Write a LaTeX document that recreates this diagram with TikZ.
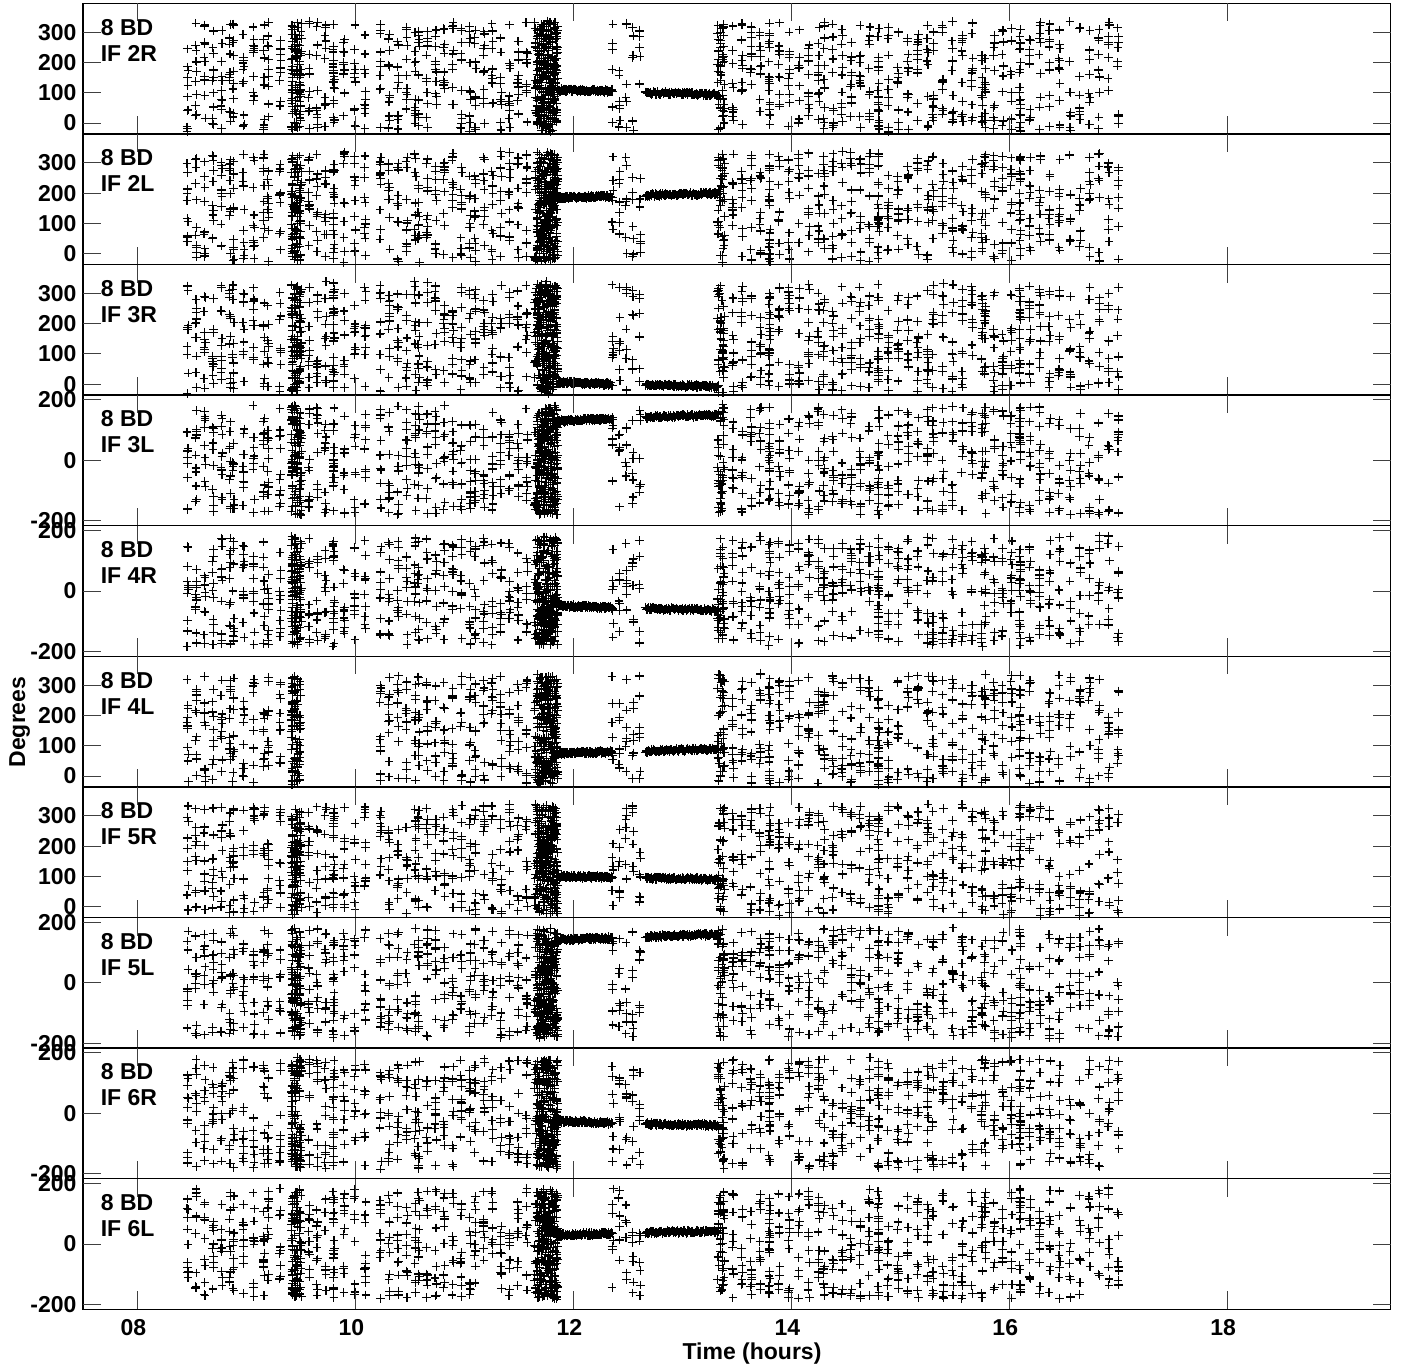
\documentclass[tikz,border=0pt]{standalone}
\usepackage{fontspec}
\setmainfont{Liberation Sans}
\usetikzlibrary{calc}

\tikzset{
    mk/.style={only marks, mark=+, mark size=4.3pt, line width=1.15pt},
    frame/.style={line width=1.3pt},
    tick/.style={line width=1pt, black!75},
    lbl/.style={font=\bfseries\fontsize{23}{23}\selectfont, inner sep=0pt},
}

% one scan: start, end (hours), tracks, step, offset
\newcommand\scanblk[5]{%
  \pgfmathtruncatemacro\ns{max(2,(#2-#1)/#4+1)}%
  \foreach \j in {1,...,#3}{%
    \pgfmathsetmacro\pz{360*rnd}%
    \pgfmathsetmacro\rt{(200*rnd-100)/#4}%
    \draw[mk] plot[domain=#1:#2, samples=\ns]
      ({\x+0.006*rand}, {mod(\pz+\rt*(\x-#1)+7200,360)-180+#5+6*rand});
  }}
% calibrator bar: start, end, phase at start, phase at end
\newcommand\phbar[4]{%
  \draw[mk] plot[domain=#1:#2, samples=90]
    (\x, {#3+(#4-#3)*(\x-#1)/(#2-#1)+5*rand});}

\begin{document}
\begin{tikzpicture}[x=1pt, y=-1pt]
\useasboundingbox (0,0) rectangle (1401,1368);

\foreach \k/\lab/\typ/\pa/\pb/\pc/\pd/\sa/\sb in {
    0/2R/0/110/105/100/95/0/0,     1/2L/0/185/190/193/200/0/0,
    2/3R/0/5/0/-2/-8/0/0,          3/3L/1/130/138/143/150/0/0,
    4/4R/1/-48/-55/-58/-63/0/0,    5/4L/0/75/80/83/90/9.5/10.1,
    6/5R/0/100/97/94/90/0/0,       7/5L/1/142/148/153/160/0/0,
    8/6R/1/-25/-32/-35/-40/0/0,    9/6L/1/30/35/38/42/0/0}{
  \pgfmathsetmacro\ptop{3.3+130.6*\k}
  \pgfmathsetmacro\pmid{\ptop+65.3}
  \pgfmathsetmacro\pcen{\typ==0 ? 180 : 0}
  \pgfmathsetmacro\poff{\typ==0 ? -25 : 0}
  \pgfmathtruncatemacro\sd{\k*37+5}
  \pgfmathsetseed{\sd}
  \begin{scope}[shift={(83-7.5*108.97,\pmid)}, x=108.97pt, y=0.3023pt]
    % data
    \foreach \ta/\tb/\nk/\st in {
        8.46/8.85/11/0.075, 8.88/9.16/11/0.075, 9.2/9.42/11/0.075,
        9.42/9.49/22/0.02, 9.5/9.8/11/0.075, 9.8/10.09/11/0.075,
        10.23/10.55/11/0.075, 10.58/11.05/11/0.075, 11.1/11.65/11/0.075,
        11.67/11.85/28/0.02, 12.36/12.61/7/0.06, 13.33/13.37/12/0.015,
        13.38/13.8/11/0.075, 13.8/14.25/11/0.075, 14.3/14.8/11/0.075,
        14.8/15.25/11/0.075, 15.3/15.75/11/0.075, 15.78/16.1/11/0.075,
        16.1/16.46/11/0.075, 16.56/17.0/9/0.075}{
      \pgfmathtruncatemacro\skp{(\ta>=\sa)&&(\tb<=\sb) ? 1 : 0}
      \ifnum\skp=0 \scanblk{\ta}{\tb}{\nk}{\st}{\poff}\fi
    }
    \pgfmathsetmacro\ua{\pa-\pcen}
    \pgfmathsetmacro\ub{\pb-\pcen}
    \pgfmathsetmacro\uc{\pc-\pcen}
    \pgfmathsetmacro\ud{\pd-\pcen}
    \phbar{11.86}{12.36}{\ua}{\ub}
    \phbar{12.66}{13.33}{\uc}{\ud}
    % frame and ticks
    \draw[frame] (7.5,-216) rectangle (19.5,216);
    \foreach \h in {8,10,...,18}
      \draw[tick] (\h,216) -- ++(0pt,-18pt) (\h,-216) -- ++(0pt,18pt);
    \ifnum\typ=0
      \foreach \v [count=\i] in {0,100,200,300}{
        \draw[tick] (7.5,\v-180) -- ++(18pt,0pt) (19.5,\v-180) -- ++(-18pt,0pt);
        \node[lbl, anchor=east, xshift=-6.3pt] (yl\k\i) at (7.5,\v-180) {\v};}
    \else
      \foreach \v [count=\i] in {-200,0,200}{
        \draw[tick] (7.5,\v) -- ++(18pt,0pt) (19.5,\v) -- ++(-18pt,0pt);
        \node[lbl, anchor=east, xshift=-6.3pt] (yl\k\i) at (7.5,\v) {\v};}
    \fi
    \node[lbl, anchor=base west] (bd\k) at (7.662,111) {8 BD};
    \node[lbl, anchor=base west] (if\k) at (7.662,25) {IF \lab};
  \end{scope}
}

% time axis
\foreach \h/\t in {8/08,10/10,12/12,14/14,16/16,18/18}
  \node[lbl] (xl\h) at (83+108.97*\h-108.97*7.5-4,1327.5) {\t};
\node[lbl, anchor=base] (xtitle) at (752,1359) {Time (hours)};
\node[lbl, anchor=base, rotate=90] (ytitle) at (25,722) {Degrees};
\end{tikzpicture}
\end{document}
